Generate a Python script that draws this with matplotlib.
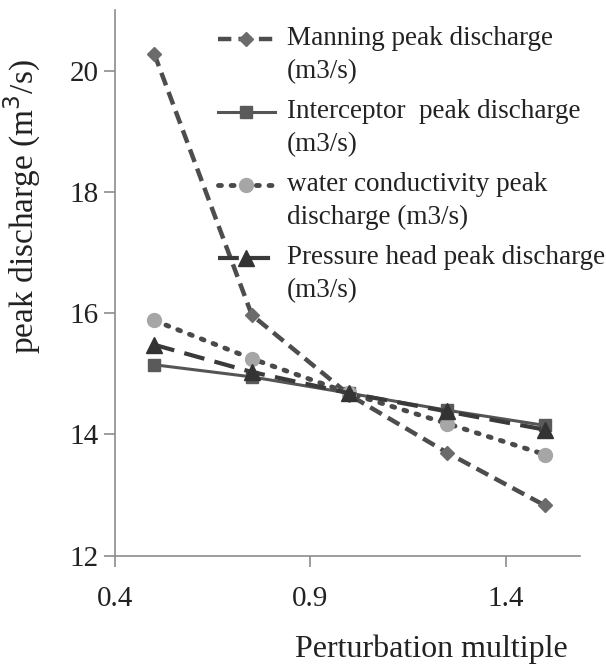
import numpy as np
import matplotlib
matplotlib.use('Agg')
import matplotlib.pyplot as plt
from matplotlib.legend_handler import HandlerLine2D

plt.rcParams['font.family'] = ['Liberation Serif', 'DejaVu Serif']

# perturbation multiples
multiple = [0.5, 0.75, 1.0, 1.25, 1.5]

# peak discharge (m3/s) for each perturbed parameter
manning = [20.28, 15.97, 14.65, 13.70, 12.83]
interceptor = [15.15, 14.95, 14.68, 14.40, 14.15]
conductivity = [15.88, 15.25, 14.68, 14.18, 13.67]
pressure = [15.48, 15.03, 14.68, 14.38, 14.08]

labels = ['Manning peak discharge\n(m3/s)',
          'Interceptor  peak discharge\n(m3/s)',
          'water conductivity peak\ndischarge (m3/s)',
          'Pressure head peak discharge\n(m3/s)']


# legend handle sits next to the first text line, not the middle
class TopLineHandler(HandlerLine2D):
    def create_artists(self, legend, orig_handle, xdescent, ydescent,
                       width, height, fontsize, trans):
        artists = super().create_artists(legend, orig_handle, xdescent, ydescent,
                                         width, height, fontsize, trans)
        for a in artists:
            a.set_ydata(np.asarray(a.get_ydata()) + 11.5)
        return artists


fig = plt.figure(figsize=(6.06, 6.68), dpi=100)
ax = fig.add_axes([0.19, 0.168, 0.767, 0.817])

ax.plot(multiple, manning, color='#4d4d4d', linestyle=(0, (3, 1.6)), linewidth=3.2,
        marker='D', markersize=7, markerfacecolor='#6b6b6b', markeredgecolor='#6b6b6b',
        label=labels[0])
ax.plot(multiple, interceptor, color='#555555', linestyle='-', linewidth=2.2,
        marker='s', markersize=8, markerfacecolor='#5a5a5a', markeredgecolor='#5a5a5a',
        label=labels[1])
ax.plot(multiple, conductivity, color='#4a4a4a', linestyle=(0, (0.6, 2)), linewidth=3.5,
        dash_capstyle='round',
        marker='o', markersize=10, markerfacecolor='#a6a6a6', markeredgecolor='#a6a6a6',
        label=labels[2])
ax.plot(multiple, pressure, color='#3a3a3a', linestyle=(0, (5, 2.5)), linewidth=3,
        marker='^', markersize=12, markerfacecolor='#333333', markeredgecolor='#333333',
        label=labels[3])

ax.set_xlim(0.4, 1.59)
ax.set_ylim(12, 21)
ax.set_xticks([0.4, 0.9, 1.4])
ax.set_xticklabels(['0.4', '0.9', '1.4'])
ax.set_yticks([12, 14, 16, 18, 20])

for side in ['top', 'right']:
    ax.spines[side].set_visible(False)
for side in ['left', 'bottom']:
    ax.spines[side].set_color('#8c8c8c')
    ax.spines[side].set_linewidth(1.2)
ax.tick_params(direction='out', length=8, width=1.2, color='#8c8c8c',
               labelsize=21, labelcolor='#222222', pad=4)
ax.tick_params(axis='x', pad=14)

ax.set_ylabel('peak discharge (m$^3$/s)', fontsize=24, color='#222222')
ax.yaxis.set_label_coords(-0.155, 0.64)
ax.set_xlabel('Perturbation multiple', fontsize=23, color='#222222', labelpad=16, x=0.68)

leg = ax.legend(loc='upper left', bbox_to_anchor=(0.215, 0.975), frameon=False,
                fontsize=19.5, handlelength=2.1, handletextpad=0.45, labelspacing=0.55,
                borderaxespad=0.0, borderpad=0.1,
                handler_map={plt.Line2D: TopLineHandler()})
for t in leg.get_texts():
    t.set_color('#222222')
    t.set_linespacing(1.42)

fig.savefig('out.png', dpi=100)
